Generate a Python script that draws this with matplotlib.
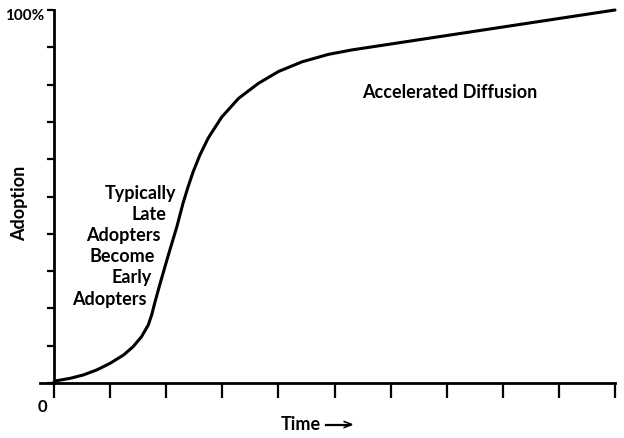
import matplotlib
matplotlib.use("Agg")
import matplotlib.pyplot as plt

# Curve data (time in tick units 0..10, adoption in % 0..100)
time = [0.0, 0.05, 0.29, 0.52, 0.76, 1.00, 1.24, 1.41, 1.56, 1.68, 1.74, 1.80,
        1.89, 2.04, 2.19, 2.30, 2.39, 2.48, 2.60, 2.75, 2.99, 3.29, 3.64, 4.00,
        4.42, 4.89, 5.31, 10.0]
adoption = [0.3, 0.62, 1.26, 2.14, 3.49, 5.28, 7.51, 9.73, 12.41, 15.55, 18.2,
            21.7, 26.6, 34.4, 41.9, 48.2, 52.6, 56.6, 61.1, 65.7, 71.3, 76.3,
            80.3, 83.5, 86.1, 88.1, 89.3, 100.0]

left_lines = ["Typically", "Late", "Adopters", "Become", "Early", "Adopters"]
annotation = "Accelerated Diffusion"
x_label = "Time"
y_label = "Adoption"
x_ticks = list(range(0, 11))
y_ticks = list(range(0, 101, 10))

plt.rcParams['font.family'] = ['Lato', 'DejaVu Sans']

W, H = 624, 438
fig = plt.figure(figsize=(W / 100, H / 100), dpi=100)
x0, x1, y0, y1 = 54, 615, 383, 10
ax = fig.add_axes([x0 / W, 1 - y0 / H, (x1 - x0) / W, (y0 - y1) / H])
ax.set_xlim(0, 10)
ax.set_ylim(0, 100)

ax.plot(time, adoption, color='black', lw=2.2, solid_capstyle='round',
        solid_joinstyle='round', clip_on=False)

for s in ['top', 'right']:
    ax.spines[s].set_visible(False)
for s in ['left', 'bottom']:
    ax.spines[s].set_linewidth(2.0)
ax.spines['bottom'].set_bounds(-0.25, 10)

ax.set_xticks(x_ticks)
ax.set_yticks(y_ticks)
ax.tick_params(axis='x', direction='out', length=11, width=1.6, labelbottom=False)
ax.tick_params(axis='y', direction='out', length=5, width=1.6, labelleft=False)

def px(xp, yp):
    return ((xp - x0) / (x1 - x0) * 10, (y0 - yp) / (y0 - y1) * 100)

fs = 13
ax.text(*px(44, 16), "100%", ha='right', va='center', fontsize=11,
        fontweight='bold', clip_on=False)
ax.text(*px(42, 407), "0", ha='center', va='center', fontsize=12,
        fontweight='bold', clip_on=False)

rights = [176, 166, 161, 155, 152, 147]
ys = [193, 214, 235, 257, 278, 299]
for t, xr, yc in zip(left_lines, rights, ys):
    ax.text(*px(xr, yc), t, ha='right', va='center', fontsize=fs,
            fontweight='bold', clip_on=False)

ax.text(*px(450, 93), annotation, ha='center', va='center', fontsize=fs,
        fontweight='bold')

fig.text(20 / W, 1 - 203 / H, y_label, rotation=90, ha='center', va='center',
         fontsize=fs, fontweight='bold')
fig.text(281 / W, 1 - 424 / H, x_label, ha='left', va='center',
         fontsize=fs, fontweight='bold')
fig.add_artist(plt.Line2D([326 / W, 350 / W], [1 - 425 / H, 1 - 425 / H],
                          color='black', lw=1.6))
fig.text(353 / W, 1 - 425 / H, ">", ha='right', va='center', fontsize=10,
         fontweight='bold', family=['DejaVu Sans'])

fig.savefig("out.png", dpi=100)
